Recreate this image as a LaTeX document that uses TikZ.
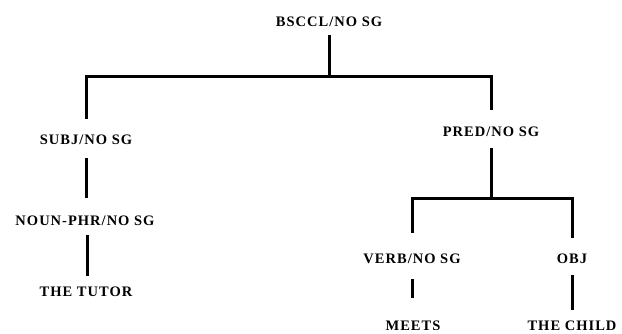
\documentclass[tikz,border=0pt]{standalone}
\usepackage{fontspec}
\setmainfont{Liberation Serif}[LetterSpace=7]
\begin{document}
\begin{tikzpicture}[x=1pt,y=-1pt,
  lbl/.style={font=\fontsize{14.5}{16}\selectfont\bfseries, inner sep=0pt, text height=10pt, text depth=0pt, anchor=center},
  tree/.style={line width=3pt, line join=miter}]
\useasboundingbox (0,0) rectangle (622,333);
\node[lbl] (root)  at (329,21)  {BSCCL/NO SG};
\node[lbl] (subj)  at (86,139)  {SUBJ/NO SG};
\node[lbl] (pred)  at (491,131) {PRED/NO SG};
\node[lbl] (np)    at (85,220)  {NOUN-PHR/NO SG};
\node[lbl] (tutor) at (86,291)  {THE TUTOR};
\node[lbl] (verb)  at (412,258) {VERB/NO SG};
\node[lbl] (obj)   at (572,258) {OBJ};
\node[lbl] (meets) at (413,325) {MEETS};
\node[lbl] (child) at (572,325) {THE CHILD};
\coordinate (b1) at (0,76);
\coordinate (b2) at (0,198);
\draw[tree, shorten <=9pt, shorten >=15pt] (root.south) |- (subj.north |- b1) -- (subj.north);
\draw[tree, shorten <=9pt, shorten >=16pt] (root.south) |- (pred.north |- b1) -- (pred.north);
\draw[tree, shorten <=14pt, shorten >=17pt] (subj.south) -- (subj.south |- np.north);
\draw[tree, shorten <=10pt, shorten >=10pt] (np.south) ++(2,0) coordinate (npx) (npx) -- (npx |- tutor.north);
\draw[tree, shorten <=12pt, shorten >=20pt] (pred.south) |- (verb.north |- b2) -- (verb.north);
\draw[tree, shorten <=12pt, shorten >=15pt] (pred.south) |- (obj.north |- b2) -- (obj.north);
\draw[tree, shorten <=16pt, shorten >=22pt] (verb.south) -- (verb.south |- meets.north);
\draw[tree, shorten <=12pt, shorten >=10pt] (obj.south) -- (obj.south |- child.north);
\end{tikzpicture}
\end{document}
